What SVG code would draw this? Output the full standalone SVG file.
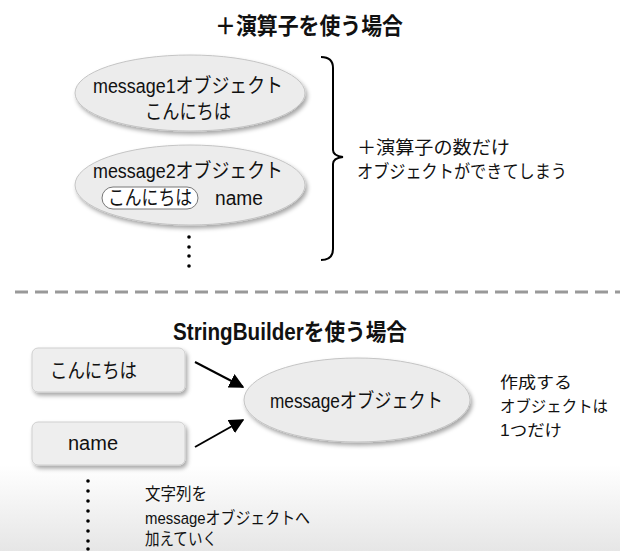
<svg xmlns="http://www.w3.org/2000/svg" width="620" height="551" viewBox="0 0 620 551">
<defs>
<linearGradient id="bg" x1="0" y1="0" x2="0" y2="1">
<stop offset="0" stop-color="#ffffff"/>
<stop offset="1" stop-color="#e6e6e6"/>
</linearGradient>
<filter id="sh" x="-10%" y="-20%" width="125%" height="150%">
<feDropShadow dx="2" dy="3" stdDeviation="2" flood-color="#000" flood-opacity="0.35"/>
</filter>
<marker id="ah" viewBox="0 0 10 10" refX="9" refY="5" markerWidth="7.5" markerHeight="7.5" markerUnits="strokeWidth" orient="auto">
<path d="M0,0 L10,5 L0,10 Z" fill="#000"/>
</marker>
<style>
text{font-family:"Liberation Sans","Noto Sans CJK JP",sans-serif;fill:#111;}
.title{font-size:23px;font-weight:bold;text-anchor:middle;}
.title2{font-size:23px;font-weight:bold;text-anchor:middle;}
.lbl{font-size:20px;}
.mid{text-anchor:middle;}
.note{font-size:18px;}
.note2{font-size:17px;}
.note3{font-size:16px;}
.obj{fill:#ececec;stroke:#c4c4c4;stroke-width:1;filter:url(#sh);}
.box{fill:#eeeeee;stroke:#cfcfcf;stroke-width:1;filter:url(#sh);}
.dot{fill:#000;}
.conn{stroke:#000;stroke-width:2;fill:none;}
</style>
</defs>
<rect x="0" y="465" width="620" height="86" fill="url(#bg)"/>
<text class="title" x="309" y="34" textLength="188" lengthAdjust="spacingAndGlyphs">＋演算子を使う場合</text>
<g id="message1">
<ellipse class="obj" cx="190" cy="93" rx="115" ry="38"/>
<text class="lbl mid" x="188" y="93" textLength="190" lengthAdjust="spacingAndGlyphs">message1オブジェクト</text>
<text class="lbl mid" x="188" y="119" textLength="86" lengthAdjust="spacingAndGlyphs">こんにちは</text>
</g>
<g id="message2">
<ellipse class="obj" cx="190" cy="185" rx="115" ry="40"/>
<text class="lbl mid" x="188" y="178" textLength="190" lengthAdjust="spacingAndGlyphs">message2オブジェクト</text>
<rect x="102" y="187" width="96" height="22" rx="11" fill="#fff" stroke="#777" stroke-width="1"/>
<text class="lbl mid" x="150" y="205" textLength="84" lengthAdjust="spacingAndGlyphs">こんにちは</text>
<text class="lbl" x="215" y="205" textLength="48" lengthAdjust="spacingAndGlyphs">name</text>
</g>
<g id="dots1">
<circle class="dot" cx="189" cy="237" r="1.8"/>
<circle class="dot" cx="189" cy="247" r="1.8"/>
<circle class="dot" cx="189" cy="256" r="1.8"/>
<circle class="dot" cx="189" cy="266" r="1.8"/>
</g>
<g id="brace">
<path d="M321,57 Q333,57 333,68 L333,150 Q333,156 343,157 Q333,158 333,164 L333,249 Q333,260 321,260" fill="none" stroke="#000" stroke-width="2"/>
</g>
<g id="note1">
<text class="note" x="357" y="154" textLength="153" lengthAdjust="spacingAndGlyphs">＋演算子の数だけ</text>
<text class="note" x="357" y="178" textLength="210" lengthAdjust="spacingAndGlyphs">オブジェクトができてしまう</text>
</g>
<line x1="15" y1="292" x2="620" y2="292" stroke="#999" stroke-width="3" stroke-dasharray="13 7"/>
<text class="title2" x="290" y="340" textLength="234" lengthAdjust="spacingAndGlyphs">StringBuilderを使う場合</text>
<g id="box-konnichiwa">
<rect class="box" x="32" y="348" width="153" height="44" rx="6"/>
<text class="lbl" x="50" y="378" textLength="87" lengthAdjust="spacingAndGlyphs">こんにちは</text>
</g>
<g id="box-name">
<rect class="box" x="32" y="422" width="153" height="43" rx="6"/>
<text class="lbl" x="68" y="450" textLength="50" lengthAdjust="spacingAndGlyphs">name</text>
</g>
<g id="message">
<ellipse class="obj" cx="357" cy="400" rx="113" ry="42"/>
<text class="lbl" x="270" y="408" textLength="173" lengthAdjust="spacingAndGlyphs">messageオブジェクト</text>
</g>
<g id="connectors">
<line class="conn" x1="195" y1="362" x2="243" y2="387" marker-end="url(#ah)"/>
<line class="conn" x1="195" y1="447" x2="243" y2="420" marker-end="url(#ah)"/>
</g>
<g id="note2">
<text class="note3" x="500" y="388" textLength="72" lengthAdjust="spacingAndGlyphs">作成する</text>
<text class="note3" x="500" y="412" textLength="108" lengthAdjust="spacingAndGlyphs">オブジェクトは</text>
<text class="note3" x="500" y="436" textLength="62" lengthAdjust="spacingAndGlyphs">1つだけ</text>
</g>
<g id="dots2">
<circle class="dot" cx="88" cy="481" r="1.8"/>
<circle class="dot" cx="88" cy="491" r="1.8"/>
<circle class="dot" cx="88" cy="501" r="1.8"/>
<circle class="dot" cx="88" cy="511" r="1.8"/>
<circle class="dot" cx="88" cy="521" r="1.8"/>
<circle class="dot" cx="88" cy="531" r="1.8"/>
<circle class="dot" cx="88" cy="541" r="1.8"/>
<circle class="dot" cx="88" cy="549" r="1.8"/>
</g>
<g id="note3">
<text class="note2" x="145" y="500" textLength="62" lengthAdjust="spacingAndGlyphs">文字列を</text>
<text class="note2" x="145" y="524" textLength="165" lengthAdjust="spacingAndGlyphs">messageオブジェクトへ</text>
<text class="note2" x="145" y="545" textLength="72" lengthAdjust="spacingAndGlyphs">加えていく</text>
</g>
</svg>
